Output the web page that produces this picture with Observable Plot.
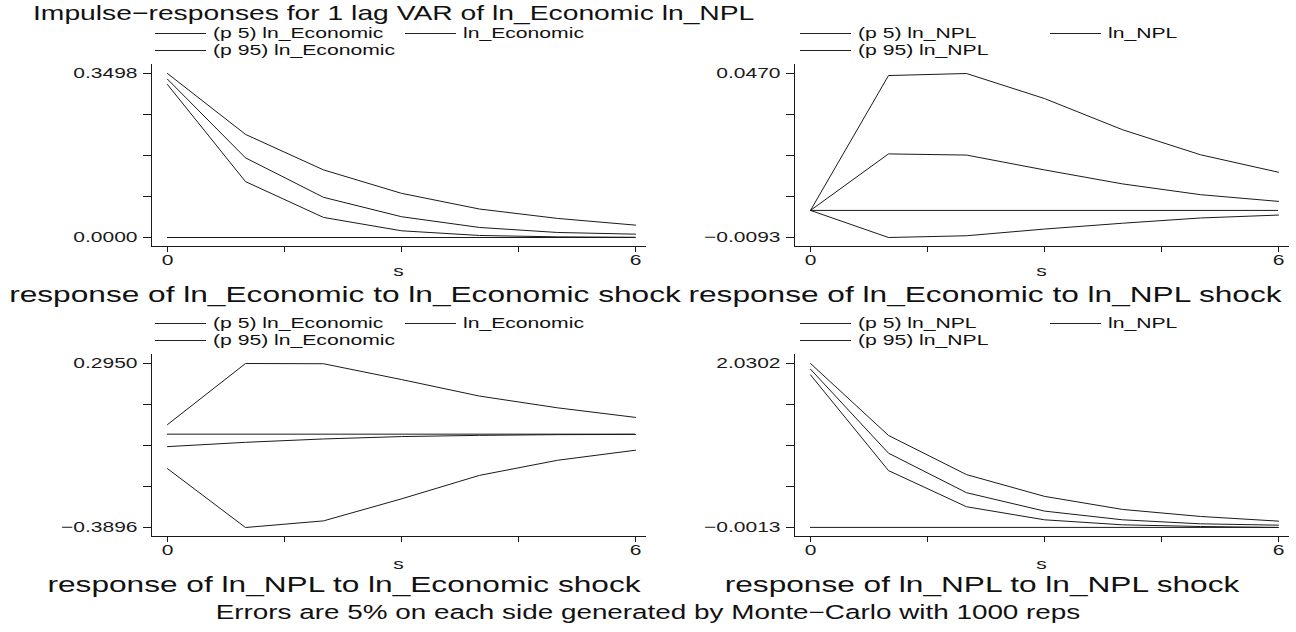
<!DOCTYPE html>
<html>
<head>
<meta charset="utf-8">
<script src="https://cdn.jsdelivr.net/npm/d3@7"></script>
<script src="https://cdn.jsdelivr.net/npm/@observablehq/plot@0.6"></script>
<style>
  html, body { margin: 0; padding: 0; background: #fff; }
  #page { position: relative; width: 1296px; height: 632px; overflow: hidden;
          font-family: "Liberation Sans", Arial, Helvetica, sans-serif; color: #111; }
  .t { position: absolute; white-space: nowrap; line-height: 1; }
  .panel { position: absolute; }
  .lg { position: absolute; height: 0; border-top: 1px solid #222; }
</style>
</head>
<body>
<div id="page"></div>
<script>
// ---------------- data ----------------
const steps = [0, 1, 2, 3, 4, 5, 6];
const xTickValues = [0, 1.5, 3, 4.5, 6];
const xTickLabels = ["0", "", "", "", "6"];

// response of ln_Economic to ln_Economic shock
const eeRange = [0.0000, 0.3498];
const eeLo  = [0.3262, 0.1192, 0.0428, 0.0143, 0.0043, 0.0014, 0.0005];
const eeIrf = [0.3377, 0.1699, 0.0857, 0.0443, 0.0214, 0.0107, 0.0071];
const eeHi  = [0.3498, 0.2199, 0.1442, 0.0942, 0.0607, 0.0407, 0.0264];

// response of ln_Economic to ln_NPL shock
const enRange = [-0.0093, 0.0470];
const enLo  = [0, -0.0093, -0.0087, -0.0064, -0.0044, -0.0026, -0.0016];
const enIrf = [0, 0.0194, 0.0190, 0.0139, 0.0091, 0.0054, 0.0031];
const enHi  = [0, 0.0463, 0.0470, 0.0384, 0.0277, 0.0191, 0.0131];

// response of ln_NPL to ln_Economic shock
const neRange = [-0.3896, 0.2950];
const neLo  = [-0.144, -0.3896, -0.362, -0.270, -0.172, -0.109, -0.067];
const neIrf = [-0.052, -0.034, -0.020, -0.010, -0.005, -0.002, -0.001];
const neHi  = [0.040, 0.2950, 0.2940, 0.228, 0.159, 0.110, 0.070];

// response of ln_NPL to ln_NPL shock
const nnRange = [-0.0013, 2.0302];
const nnLo  = [1.8893, 0.7035, 0.2558, 0.0941, 0.0319, 0.0111, -0.0013];
const nnIrf = [1.9598, 0.9191, 0.4299, 0.2019, 0.0941, 0.0443, 0.0277];
const nnHi  = [2.0302, 1.1388, 0.6538, 0.3843, 0.2226, 0.1355, 0.0775];

const legendEconomic = ["(p 5) ln_Economic", "ln_Economic", "(p 95) ln_Economic"];
const legendNPL = ["(p 5) ln_NPL", "ln_NPL", "(p 95) ln_NPL"];
const captions = [
  "response of ln_Economic to ln_Economic shock",
  "response of ln_Economic to ln_NPL shock",
  "response of ln_NPL to ln_Economic shock",
  "response of ln_NPL to ln_NPL shock"
];
const titleText = "Impulse\u2212responses for 1 lag VAR of ln_Economic ln_NPL";
const noteText = "Errors are 5% on each side generated by Monte\u2212Carlo with 1000 reps";
const xLabel = "s";

// ---------------- layout ----------------
const SX = 1.4;              // horizontal text stretch of the original export
const FONT = '"Liberation Sans", Arial, Helvetica, sans-serif';
const INK = "#1a1a1a";
const page = document.getElementById("page");

function label(text, x, cy, fs, anchor) {
  const a = anchor === "middle" ? 0.5 : anchor === "end" ? 1 : 0;
  const d = document.createElement("div");
  d.className = "t";
  d.textContent = text;
  d.style.left = x + "px";
  d.style.top = cy + "px";
  d.style.fontSize = fs + "px";
  d.style.transformOrigin = (a * 100) + "% 50%";
  d.style.transform = `translate(${-a * 100}%, -50%) scaleX(${SX})`;
  page.appendChild(d);
}

function legend(labels, lx, y1, y2) {
  const rows = [[labels[0], 0, y1], [labels[1], 250, y1], [labels[2], 0, y2]];
  for (const [txt, dx, y] of rows) {
    const l = document.createElement("div");
    l.className = "lg";
    l.style.left = (lx + dx) + "px";
    l.style.width = "51px";
    l.style.top = (y - 0.5) + "px";
    page.appendChild(l);
    label(txt, lx + dx + 58, y, 15.1, "start");
  }
}

function panel(cfg) {
  const W = 648, H = 220;
  const [y0, y1] = cfg.range;
  const yTicks = d3.range(5).map(k => y0 + k * (y1 - y0) / 4);
  const fmt = d3.format(".4f");
  const chart = Plot.plot({
    width: W,
    height: H,
    marginLeft: cfg.axis - cfg.left,
    marginRight: cfg.left + W - cfg.right,
    marginTop: 2,
    marginBottom: 36,
    x: { domain: [steps[0], steps[steps.length - 1]], insetLeft: cfg.x0 - cfg.axis, insetRight: cfg.right - cfg.x6 },
    y: { domain: cfg.range, insetTop: 9, insetBottom: 9 },
    style: { fontFamily: FONT, fontSize: "15px", color: INK, background: "transparent", overflow: "visible" },
    marks: [
      Plot.frame({ anchor: "left", stroke: INK }),
      Plot.frame({ anchor: "bottom", stroke: INK }),
      Plot.axisY({
        ticks: yTicks, tickSize: 8, tickPadding: 6,
        tickFormat: (d) => (Math.abs(d - y0) < 1e-9 || Math.abs(d - y1) < 1e-9) ? fmt(d) : ""
      }),
      Plot.axisX({
        ticks: xTickValues, tickSize: 6, tickPadding: 2,
        tickFormat: (d) => xTickLabels[xTickValues.indexOf(d)]
      }),
      Plot.text([xLabel], { text: d => d, frameAnchor: "bottom", dy: cfg.sdy, fontSize: 15, fill: INK }),
      Plot.ruleY([0], { x1: steps[0], x2: steps[steps.length - 1], stroke: INK, strokeWidth: 1 }),
      Plot.lineY(cfg.lo, { x: steps, stroke: INK, strokeWidth: 1 }),
      Plot.lineY(cfg.irf, { x: steps, stroke: INK, strokeWidth: 1 }),
      Plot.lineY(cfg.hi, { x: steps, stroke: INK, strokeWidth: 1 })
    ]
  });
  const holder = document.createElement("div");
  holder.className = "panel";
  holder.style.left = cfg.left + "px";
  holder.style.top = cfg.top + "px";
  holder.appendChild(chart);
  page.appendChild(holder);
  chart.querySelectorAll("text").forEach(t => {
    const L = t.getComputedTextLength();
    if (L > 0) {
      t.setAttribute("textLength", L * SX);
      t.setAttribute("lengthAdjust", "spacingAndGlyphs");
    }
  });
}

label(titleText, 33, 13, 20.2, "start");

panel({ left: 0,   top: 62,  axis: 151, x0: 167, x6: 635,  right: 645,  sdy: 29, range: eeRange, lo: eeLo, irf: eeIrf, hi: eeHi });
panel({ left: 648, top: 62,  axis: 794, x0: 810, x6: 1278, right: 1288, sdy: 29, range: enRange, lo: enLo, irf: enIrf, hi: enHi });
panel({ left: 0,   top: 352, axis: 151, x0: 167, x6: 635,  right: 645,  sdy: 32, range: neRange, lo: neLo, irf: neIrf, hi: neHi });
panel({ left: 648, top: 352, axis: 794, x0: 810, x6: 1278, right: 1288, sdy: 32, range: nnRange, lo: nnLo, irf: nnIrf, hi: nnHi });

legend(legendEconomic, 155, 33, 50);
legend(legendNPL, 800, 33, 50);
legend(legendEconomic, 155, 323, 340);
legend(legendNPL, 800, 323, 340);

label(captions[0], 345, 295, 22.6, "middle");
label(captions[1], 985, 295, 22.6, "middle");
label(captions[2], 344, 585, 22.6, "middle");
label(captions[3], 982, 585, 22.6, "middle");
label(noteText, 648, 613, 19.9, "middle");
</script>
</body>
</html>
